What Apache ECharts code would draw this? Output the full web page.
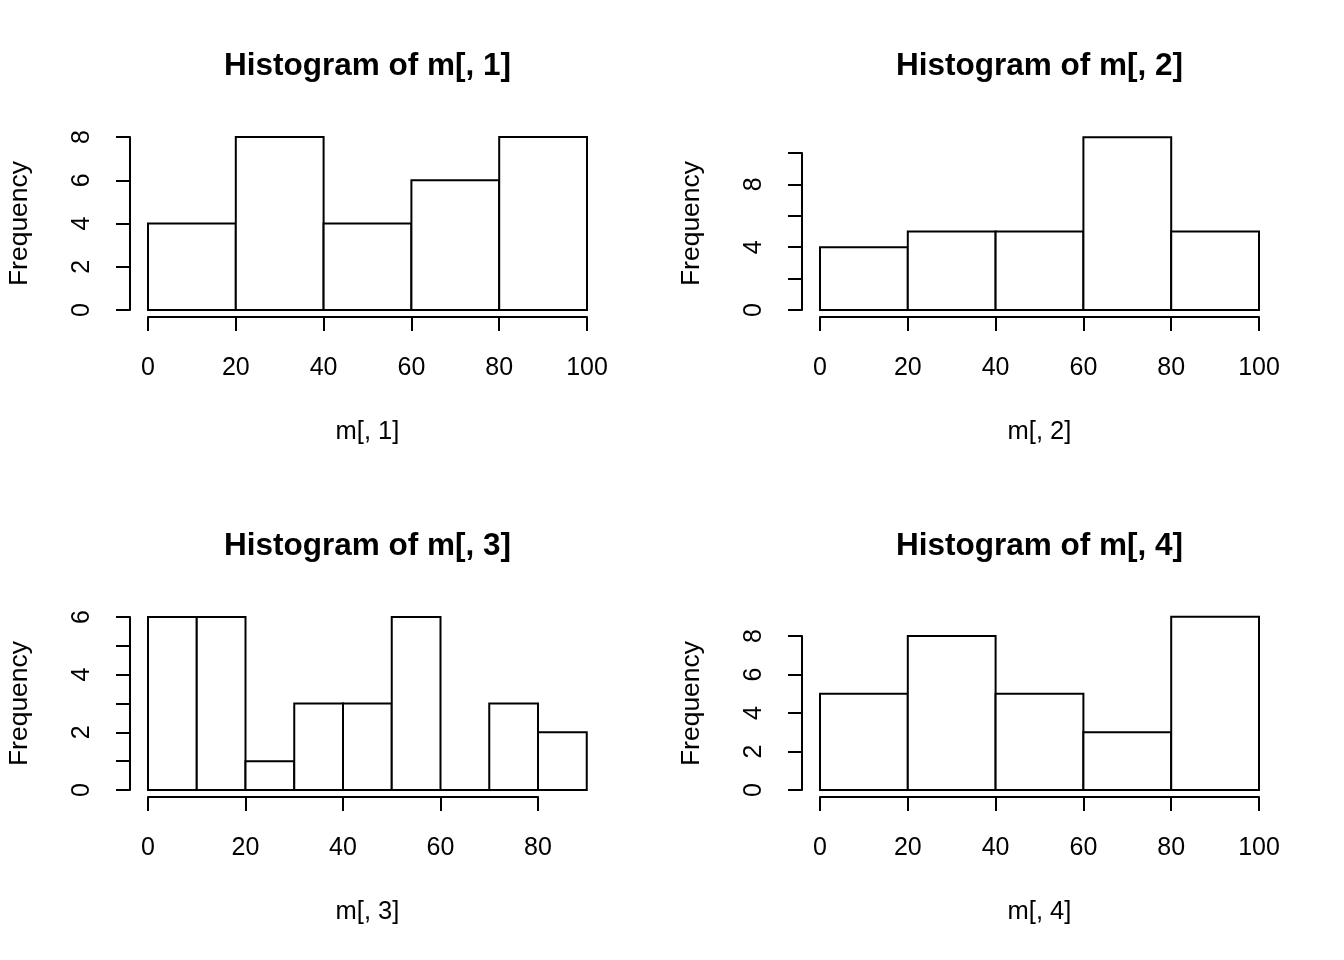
<!DOCTYPE html>
<html>
<head>
<meta charset="utf-8">
<script src="https://cdn.jsdelivr.net/npm/echarts@6/dist/echarts.min.js"></script>
<style>html,body{margin:0;padding:0;background:#fff}#c{width:1344px;height:960px}</style>
</head>
<body>
<div id="c"></div>
<script>
// Data
const titles = ['Histogram of m[, 1]', 'Histogram of m[, 2]', 'Histogram of m[, 3]', 'Histogram of m[, 4]'];
const xNames = ['m[, 1]', 'm[, 2]', 'm[, 3]', 'm[, 4]'];
const breaks1 = [0, 20, 40, 60, 80, 100];
const counts1 = [4, 8, 4, 6, 8];
const breaks2 = [0, 20, 40, 60, 80, 100];
const counts2 = [4, 5, 5, 11, 5];
const breaks3 = [0, 10, 20, 30, 40, 50, 60, 70, 80, 90];
const counts3 = [6, 6, 1, 3, 3, 6, 0, 3, 2];
const breaks4 = [0, 20, 40, 60, 80, 100];
const counts4 = [5, 8, 5, 3, 9];
// axis tick ranges
const xTicks = [[0, 100, 20], [0, 100, 20], [0, 80, 20], [0, 100, 20]];
const yTicks = [[0, 8, 2], [0, 10, 2], [0, 6, 1], [0, 8, 2]];
const yLabelStep = [2, 4, 2, 2];

const allBreaks = [breaks1, breaks2, breaks3, breaks4];
const allCounts = [counts1, counts2, counts3, counts4];

// layout (pixel positions of the tick ranges)
const grids = [
  {left: 148, width: 439, top: 137, height: 173},
  {left: 820, width: 439, top: 153, height: 157},
  {left: 148, width: 390, top: 617, height: 173},
  {left: 820, width: 439, top: 636, height: 154}
];
const panelCenters = [[367.5, 0], [1039.5, 0], [367.5, 480], [1039.5, 480]];
const freqX = [20, 692];

const FONT = '"Liberation Sans", Arimo, Helvetica, Arial, sans-serif';
const chart = echarts.init(document.getElementById('c'), null, {renderer: 'canvas'});

const option = {
  backgroundColor: '#fff',
  animation: false,
  grid: grids.map(g => Object.assign({containLabel: false}, g)),
  xAxis: xTicks.map((t, i) => ({
    type: 'value', gridIndex: i, min: t[0], max: t[1], interval: t[2],
    offset: 7,
    axisLine: {show: true, onZero: false, lineStyle: {color: '#000', width: 2}},
    axisTick: {show: true, length: 14, lineStyle: {color: '#000', width: 2}},
    axisLabel: {color: '#000', fontSize: 25, fontFamily: FONT, margin: 39},
    splitLine: {show: false}
  })),
  yAxis: yTicks.map((t, i) => ({
    type: 'value', gridIndex: i, min: t[0], max: t[1], interval: t[2],
    offset: 18,
    axisLine: {show: true, onZero: false, lineStyle: {color: '#000', width: 2}},
    axisTick: {show: true, length: 14, lineStyle: {color: '#000', width: 2}},
    axisLabel: {color: '#000', fontSize: 25, fontFamily: FONT, margin: 35, rotate: 90,
      formatter: v => (v % yLabelStep[i] === 0 ? String(v) : '')},
    splitLine: {show: false}
  })),
  series: allCounts.map((counts, i) => ({
    type: 'custom', xAxisIndex: i, yAxisIndex: i, clip: false,
    data: counts.map((c, j) => [allBreaks[i][j], allBreaks[i][j + 1], c]),
    renderItem: function (params, api) {
      const p0 = api.coord([api.value(0), api.value(2)]);
      const p1 = api.coord([api.value(1), 0]);
      return {
        type: 'rect',
        shape: {x: p0[0], y: p0[1], width: p1[0] - p0[0], height: p1[1] - p0[1]},
        style: {fill: '#fff', stroke: '#000', lineWidth: 2}
      };
    }
  })),
  graphic: [].concat(
    panelCenters.map((c, i) => ({
      type: 'text', x: c[0], y: 66 + c[1],
      style: {text: titles[i], font: 'bold 31.5px ' + FONT, fill: '#000', align: 'center', verticalAlign: 'middle'}
    })),
    panelCenters.map((c, i) => ({
      type: 'text', x: c[0], y: 432 + c[1],
      style: {text: xNames[i], font: '25.5px ' + FONT, fill: '#000', align: 'center', verticalAlign: 'middle'}
    })),
    panelCenters.map((c, i) => ({
      type: 'text', x: freqX[i % 2], y: 223.5 + c[1], rotation: Math.PI / 2,
      style: {text: 'Frequency', font: '26.5px ' + FONT, fill: '#000', align: 'center', verticalAlign: 'middle'}
    }))
  )
};
chart.setOption(option);
</script>
</body>
</html>
